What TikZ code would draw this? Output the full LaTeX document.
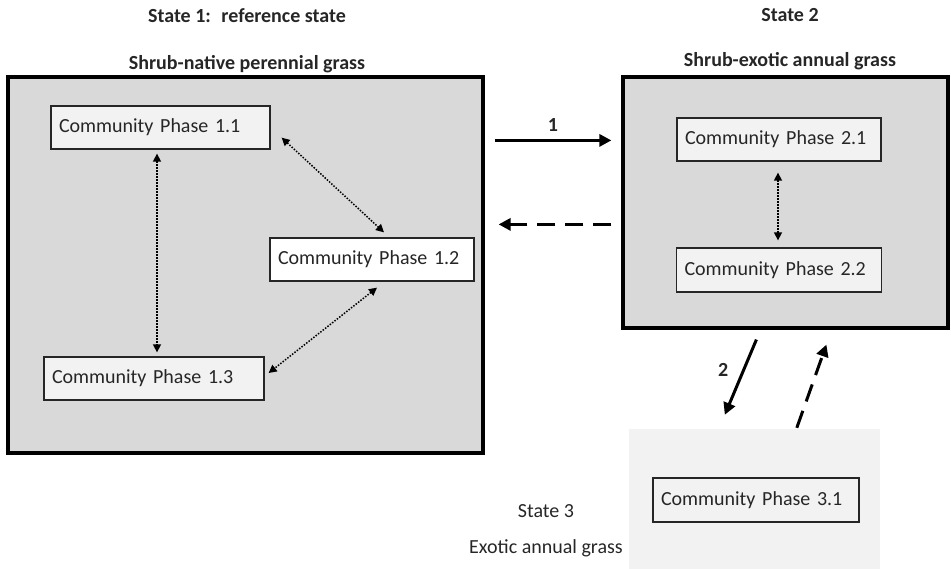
\documentclass[tikz,border=0pt]{standalone}
\usepackage{fontspec}
\setmainfont{Carlito}
\usetikzlibrary{arrows.meta,calc}
\definecolor{stategray}{HTML}{D9D9D9}
\definecolor{phasegray}{HTML}{F2F2F2}
\definecolor{txt}{HTML}{262626}
\begin{document}
\begin{tikzpicture}[x=1pt,y=-1pt,
  every node/.style={text=txt},
  statebox/.style={draw=black, line width=3.2pt, fill=stategray, inner sep=0pt},
  state3box/.style={fill=phasegray, draw=none, inner sep=0pt},
  phasebox/.style={draw=black!85, line width=1.3pt, fill=phasegray, minimum height=43pt,
    inner xsep=8pt, inner ysep=0pt, align=left, text width=#1,
    font=\fontsize{20}{24}\selectfont},
  titletext/.style={anchor=base, inner sep=0pt, font=\fontsize{20}{24}\selectfont\bfseries},
  plaintext/.style={anchor=base, inner sep=0pt, font=\fontsize{20}{24}\selectfont},
  labeltext/.style={inner sep=0pt, font=\fontsize{20}{24}\selectfont\bfseries},
  solidarrow/.style={line width=3pt, -{Triangle[length=12pt,width=12pt]}},
  dasharrow/.style={line width=3pt, dash pattern=on 18pt off 10pt, -{Triangle[length=12pt,width=12pt]}},
  dotarrow/.style={line width=1.5pt, dash pattern=on 1.5pt off 1.5pt,
    {Triangle[length=8pt,width=8pt]}-{Triangle[length=8pt,width=8pt]}}
]
\useasboundingbox (0,0) rectangle (951,569);

% titles
\node[titletext] (t1a) at (247,23) {State 1:~ reference state};
\node[titletext] (t1b) at (247,70) {Shrub-native perennial grass};
\node[titletext] (t2a) at (790,22) {State 2};
\node[titletext] (t2b) at (790,67) {Shrub-exotic annual grass};

% state boxes
\node[statebox, minimum width=475pt, minimum height=376pt] (s1) at (245.5,265) {};
\node[statebox, minimum width=325pt, minimum height=251pt] (s2) at (785.5,202.5) {};
\node[state3box, minimum width=251pt, minimum height=140pt] (s3) at (754.5,499) {};

\node[plaintext] (t3a) at (546,517) {State 3};
\node[plaintext] (t3b) at (546,553) {Exotic annual grass};

% phases
\node[phasebox=203pt] (p11) at (160.5,127.5) {Community Phase 1.1};
\node[phasebox=188pt, fill=white] (p12) at (372,259.5) {Community Phase 1.2};
\node[phasebox=204pt] (p13) at (154,378.5) {Community Phase 1.3};
\node[phasebox=188pt] (p21) at (779,139.5) {Community Phase 2.1};
\node[phasebox=189pt, minimum height=44pt] (p22) at (779,270) {Community Phase 2.2};
\node[phasebox=190pt, minimum height=44pt] (p31) at (756,500) {Community Phase 3.1};

% transitions between states
\draw[solidarrow] ([xshift=10pt,yshift=-65pt]s1.north east) -- node[labeltext, midway, above=7pt] (l1) {1} ([xshift=-10pt,yshift=-65pt]s2.north west);
\draw[dasharrow] ([xshift=-10pt,yshift=-149pt]s2.north west) -- ([xshift=14pt,yshift=-149pt]s1.north east);
\draw[solidarrow] ([xshift=135pt,yshift=-10pt]s2.south west) -- node[labeltext, pos=0.4, left=14pt] (l2) {2} ([xshift=96pt,yshift=14pt]s3.north west);
\draw[dasharrow] ([xshift=168pt,yshift=1pt]s3.north west) -- ([xshift=205pt,yshift=-15pt]s2.south west);

% community pathways
\draw[dotarrow] ([xshift=-3.5pt,yshift=-4pt]p11.south) -- ([xshift=3pt,yshift=4pt]p13.north);
\draw[dotarrow] ([xshift=11pt,yshift=12pt]p11.south east) -- ([xshift=12pt,yshift=5pt]p12.north);
\draw[dotarrow] ([xshift=5pt,yshift=-6pt]p12.south) -- ([xshift=4pt,yshift=5.5pt]p13.east);
\draw[dotarrow] ([xshift=-1pt,yshift=-11pt]p21.south) -- ([xshift=-1pt,yshift=7pt]p22.north);
\end{tikzpicture}
\end{document}
